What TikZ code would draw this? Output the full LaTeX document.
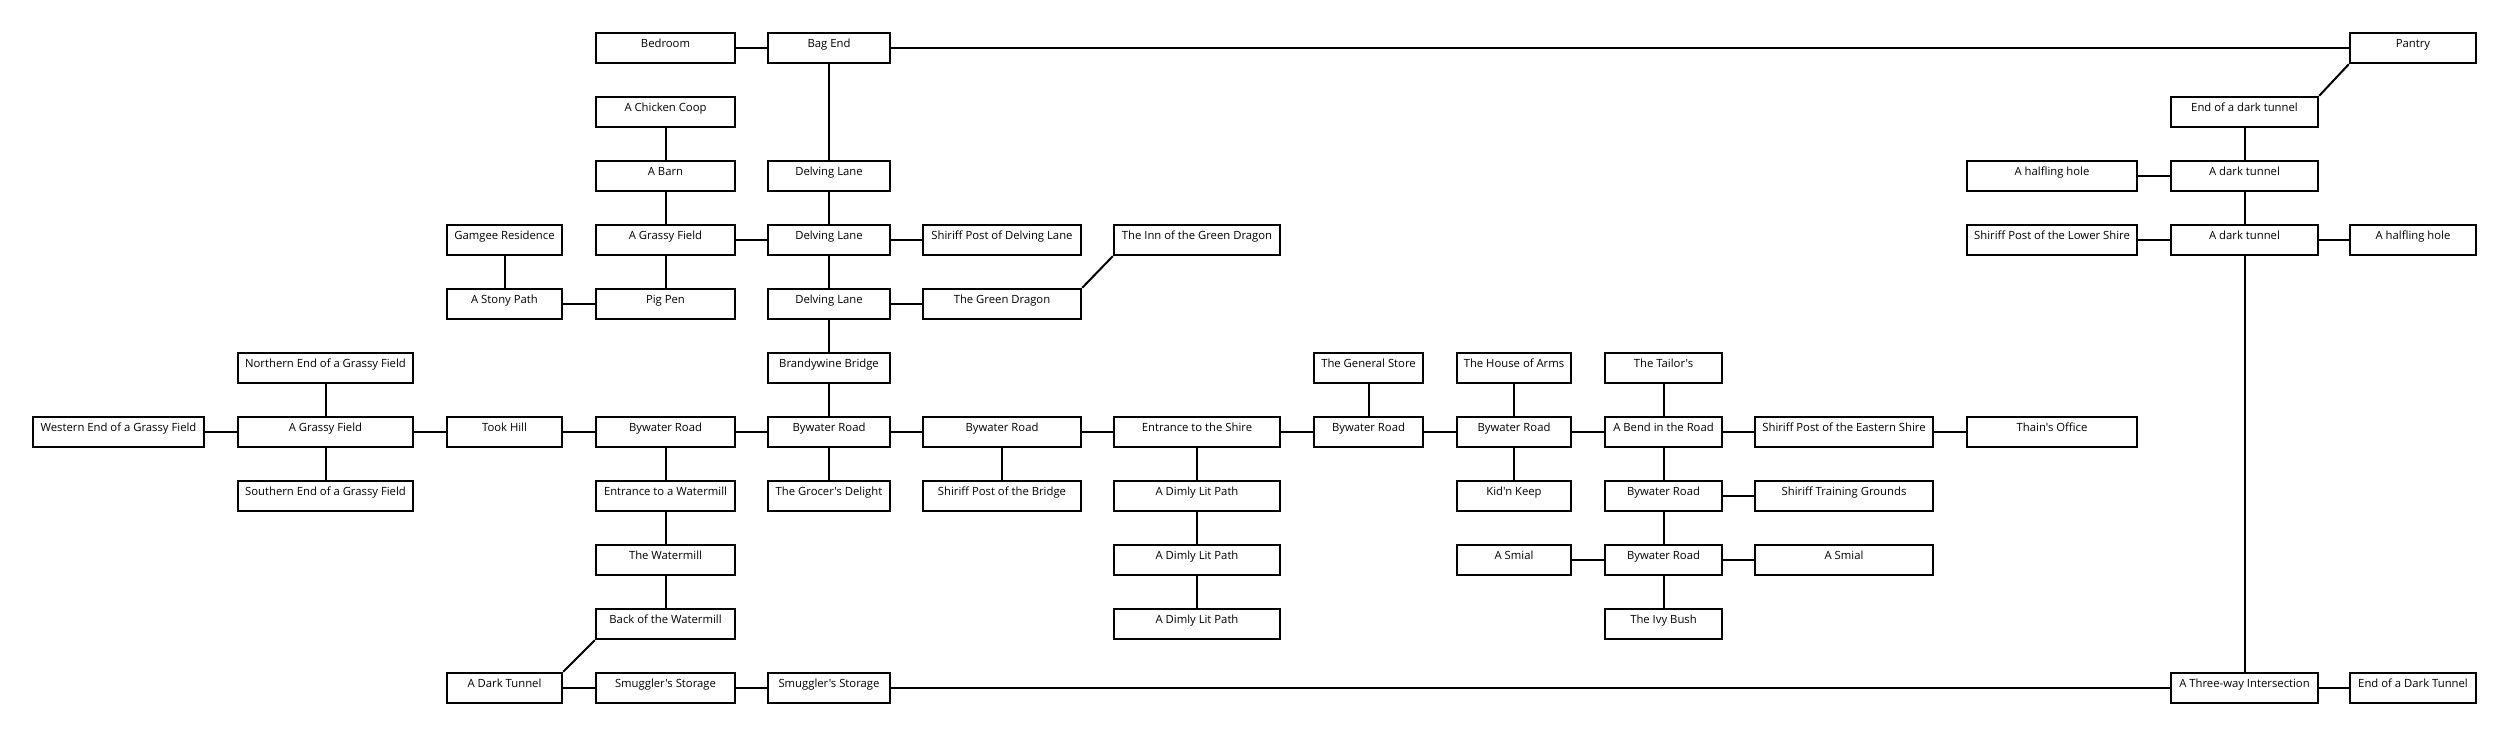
\documentclass[tikz,border=0pt]{standalone}
\usepackage{fontspec}
\newfontfamily\roomfont{Open Sans}
\usepackage{tikz}
\usetikzlibrary{positioning}

\begin{document}
\begin{tikzpicture}[x=1pt,y=1pt,
    room/.style={draw, line width=2.4pt, minimum height=30pt, inner sep=0pt,
        text height=8.5pt, text depth=8.5pt, font=\roomfont\fontsize{11.3}{13}\selectfont},
    link/.style={line width=2pt},
    colA/.style={room, minimum width=171pt},
    colB/.style={room, minimum width=175pt},
    colC/.style={room, minimum width=115pt},
    colD/.style={room, minimum width=139pt},
    colE/.style={room, minimum width=122pt},
    colF/.style={room, minimum width=158pt},
    colG/.style={room, minimum width=166pt},
    colH/.style={room, minimum width=109pt},
    colI/.style={room, minimum width=114pt},
    colJ/.style={room, minimum width=117pt},
    colK/.style={room, minimum width=178pt},
    colL/.style={room, minimum width=170pt},
    colM/.style={room, minimum width=147pt},
    colN/.style={room, minimum width=126pt}]
    \useasboundingbox (0,0) rectangle (2508,736);

    % Hobbiton, north
    \node[colD] (bedroom) at (665.5,688) {Bedroom};
    \node[colE] (bagend) at (829,688) {Bag End};
    \node[colD] (coop) at (665.5,624) {A Chicken Coop};
    \node[colD] (barn) at (665.5,560) {A Barn};
    \node[colE] (delving1) at (829,560) {Delving Lane};
    \node[colC] (gamgee) at (504.5,496) {Gamgee Residence};
    \node[colD] (field) at (665.5,496) {A Grassy Field};
    \node[colE] (delving2) at (829,496) {Delving Lane};
    \node[colF] (postdelving) at (1002,496) {Shiriff Post of Delving Lane};
    \node[colG] (inn) at (1197,496) {The Inn of the Green Dragon};
    \node[colC] (stony) at (504.5,432) {A Stony Path};
    \node[colD] (pigpen) at (665.5,432) {Pig Pen};
    \node[colE] (delving3) at (829,432) {Delving Lane};
    \node[colF] (greendragon) at (1002,432) {The Green Dragon};
    \node[colE] (bridge) at (829,368) {Brandywine Bridge};

    % Bywater Road
    \node[colB] (north) at (325.5,368) {Northern End of a Grassy Field};
    \node[colA] (west) at (118.5,304) {Western End of a Grassy Field};
    \node[colB] (grassy) at (325.5,304) {A Grassy Field};
    \node[colB] (south) at (325.5,240) {Southern End of a Grassy Field};
    \node[colC] (took) at (504.5,304) {Took Hill};
    \node[colD] (road1) at (665.5,304) {Bywater Road};
    \node[colE] (road2) at (829,304) {Bywater Road};
    \node[colF] (road3) at (1002,304) {Bywater Road};
    \node[colG] (entrance) at (1197,304) {Entrance to the Shire};
    \node[colH] (store) at (1368.5,368) {The General Store};
    \node[colH] (road4) at (1368.5,304) {Bywater Road};
    \node[colI] (arms) at (1514,368) {The House of Arms};
    \node[colI] (road5) at (1514,304) {Bywater Road};
    \node[colJ] (tailor) at (1663.5,368) {The Tailor's};
    \node[colJ] (bend) at (1663.5,304) {A Bend in the Road};
    \node[colK] (eastshire) at (1844,304) {Shiriff Post of the Eastern Shire};
    \node[colL] (thain) at (2052,304) {Thain's Office};

    % South of the road
    \node[colD] (millentrance) at (665.5,240) {Entrance to a Watermill};
    \node[colD] (mill) at (665.5,176) {The Watermill};
    \node[colD] (millback) at (665.5,112) {Back of the Watermill};
    \node[colE] (grocer) at (829,240) {The Grocer's Delight};
    \node[colF] (postbridge) at (1002,240) {Shiriff Post of the Bridge};
    \node[colG] (dim1) at (1197,240) {A Dimly Lit Path};
    \node[colG] (dim2) at (1197,176) {A Dimly Lit Path};
    \node[colG] (dim3) at (1197,112) {A Dimly Lit Path};
    \node[colI] (kidnkeep) at (1514,240) {Kid'n Keep};
    \node[colJ] (road6) at (1663.5,240) {Bywater Road};
    \node[colK] (training) at (1844,240) {Shiriff Training Grounds};
    \node[colI] (smial1) at (1514,176) {A Smial};
    \node[colJ] (road7) at (1663.5,176) {Bywater Road};
    \node[colK] (smial2) at (1844,176) {A Smial};
    \node[colJ] (ivy) at (1663.5,112) {The Ivy Bush};

    % Tunnels
    \node[colC] (tunnel) at (504.5,48) {A Dark Tunnel};
    \node[colD] (storage1) at (665.5,48) {Smuggler's Storage};
    \node[colE] (storage2) at (829,48) {Smuggler's Storage};
    \node[colM] (threeway) at (2244.5,48) {A Three-way Intersection};
    \node[colN] (tunnelend) at (2413,48) {End of a Dark Tunnel};
    \node[colN] (pantry) at (2413,688) {Pantry};
    \node[colM] (darkend) at (2244.5,624) {End of a dark tunnel};
    \node[colL] (hole1) at (2052,560) {A halfling hole};
    \node[colM] (dark1) at (2244.5,560) {A dark tunnel};
    \node[colL] (lowershire) at (2052,496) {Shiriff Post of the Lower Shire};
    \node[colM] (dark2) at (2244.5,496) {A dark tunnel};
    \node[colN] (hole2) at (2413,496) {A halfling hole};

    % Links
    \draw[link] (bedroom) -- (bagend) -- (pantry);
    \draw[link] (bagend) -- (delving1) -- (delving2) -- (delving3) -- (bridge) -- (road2) -- (grocer);
    \draw[link] (coop) -- (barn) -- (field) -- (pigpen);
    \draw[link] (gamgee) -- (stony) -- (pigpen);
    \draw[link] (field) -- (delving2) -- (postdelving);
    \draw[link] (delving3) -- (greendragon);
    \draw[link] (greendragon.north east) -- (inn.south west);
    \draw[link] (west) -- (grassy) -- (took) -- (road1) -- (road2) -- (road3) -- (entrance)
        -- (road4) -- (road5) -- (bend) -- (eastshire) -- (thain);
    \draw[link] (north) -- (grassy) -- (south);
    \draw[link] (road1) -- (millentrance) -- (mill) -- (millback);
    \draw[link] (millback.south west) -- (tunnel.north east);
    \draw[link] (road3) -- (postbridge);
    \draw[link] (entrance) -- (dim1) -- (dim2) -- (dim3);
    \draw[link] (store) -- (road4);
    \draw[link] (arms) -- (road5) -- (kidnkeep);
    \draw[link] (tailor) -- (bend) -- (road6) -- (road7) -- (ivy);
    \draw[link] (road6) -- (training);
    \draw[link] (smial1) -- (road7) -- (smial2);
    \draw[link] (tunnel) -- (storage1) -- (storage2) -- (threeway) -- (tunnelend);
    \draw[link] (pantry.south west) -- (darkend.north east);
    \draw[link] (darkend) -- (dark1) -- (dark2) -- (threeway);
    \draw[link] (hole1) -- (dark1);
    \draw[link] (lowershire) -- (dark2) -- (hole2);
\end{tikzpicture}
\end{document}
